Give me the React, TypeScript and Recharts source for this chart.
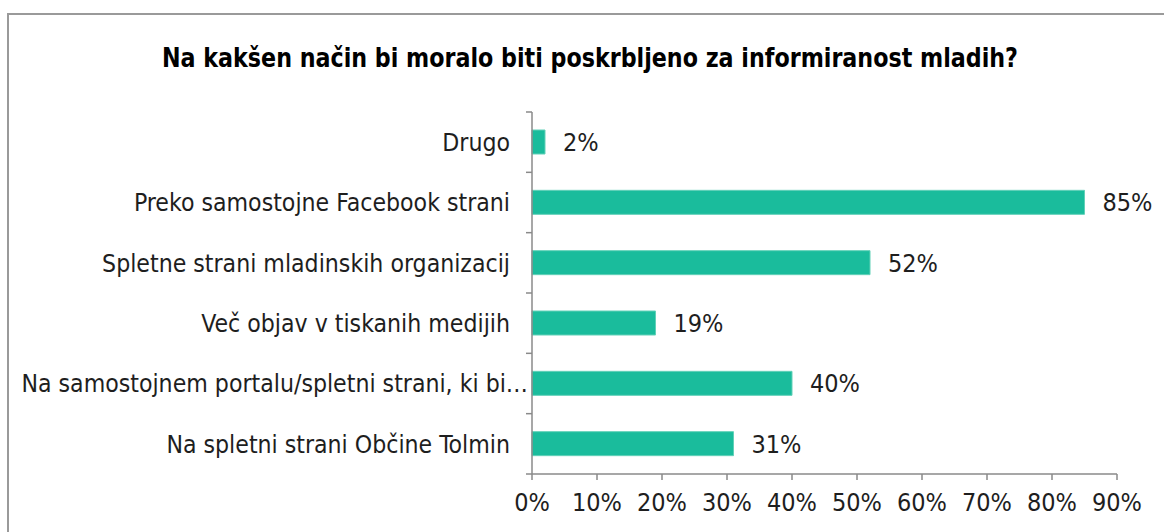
import React from "react";
import { BarChart, Bar, XAxis, YAxis, LabelList } from "recharts";

const categories: string[] = [
  "Drugo",
  "Preko samostojne Facebook strani",
  "Spletne strani mladinskih organizacij",
  "Več objav v tiskanih medijih",
  "Na samostojnem portalu/spletni strani, ki bi…",
  "Na spletni strani Občine Tolmin",
];
const values: number[] = [2, 85, 52, 19, 40, 31];
const xTicks: number[] = [0, 10, 20, 30, 40, 50, 60, 70, 80, 90];
const title = "Na kakšen način bi moralo biti poskrbljeno za informiranost mladih?";

const data = categories.map((name, i) => ({ name, value: values[i] }));

const FONT = '"DejaVu Sans Condensed", "DejaVu Sans", sans-serif';
const AXIS_COLOR = "#8a8a8a";
const TEXT_COLOR = "#1e1e1e";

const YTick = (props: any) => {
  const { x, y, payload, index, visibleTicksCount } = props;
  const half = payload && payload.offset ? payload.offset : 30;
  const axisX = x + 16;
  const label = String(payload.value);
  const truncated = label.endsWith("…");
  return (
    <g>
      <line x1={axisX - 6} x2={axisX} y1={y - half} y2={y - half} stroke={AXIS_COLOR} strokeWidth={1.5} />
      {index === (visibleTicksCount ?? categories.length) - 1 ? (
        <line x1={axisX - 6} x2={axisX} y1={y + half} y2={y + half} stroke={AXIS_COLOR} strokeWidth={1.5} />
      ) : null}
      <text
        x={truncated ? axisX - 4 : x - 6}
        y={y}
        dy="0.36em"
        textAnchor="end"
        fill={TEXT_COLOR}
        fontSize={24.6}
        fontFamily={FONT}
      >
        {label}
      </text>
    </g>
  );
};

export default function App() {
  return (
    <div style={{ position: "absolute", left: 0, top: 0, width: 1164, height: 532, overflow: "hidden", background: "#fff" }}>
      <div
        style={{
          position: "absolute",
          left: 7,
          top: 13,
          width: 1200,
          height: 600,
          border: "2px solid #9a9a9a",
          boxSizing: "border-box",
        }}
      />
      <svg style={{ position: "absolute", left: 0, top: 0 }} width={1164} height={100}>
        <text
          x={162}
          y={67}
          textLength={856}
          lengthAdjust="spacingAndGlyphs"
          fontFamily='"DejaVu Sans Condensed", "DejaVu Sans", sans-serif'
          fontWeight={700}
          fontSize={26.5}
          fill="#000"
        >
          {title}
        </text>
      </svg>
      <div style={{ position: "absolute", left: 0, top: 0 }}>
        <BarChart
          width={1164}
          height={532}
          data={data}
          layout="vertical"
          margin={{ top: 112, right: 47, bottom: 0, left: 0 }}
          barCategoryGap={0}
        >
          <XAxis
            type="number"
            domain={[0, 90]}
            ticks={xTicks}
            tickFormatter={(v: number) => `${v}%`}
            height={58}
            axisLine={{ stroke: AXIS_COLOR, strokeWidth: 1.5 }}
            tickLine={{ stroke: AXIS_COLOR, strokeWidth: 1.5 }}
            tickSize={6}
            tickMargin={13}
            tick={{ fill: TEXT_COLOR, fontSize: 25, fontFamily: FONT }}
            interval={0}
          />
          <YAxis
            type="category"
            dataKey="name"
            width={532}
            axisLine={{ stroke: AXIS_COLOR, strokeWidth: 1.5 }}
            tickLine={false}
            tickSize={0}
            tickMargin={16}
            tick={<YTick />}
            interval={0}
          />
          <Bar dataKey="value" fill="#1abc9c" stroke="#62d1b8" strokeWidth={1} barSize={24} isAnimationActive={false}>
            <LabelList
              dataKey="value"
              position="right"
              offset={18}
              formatter={(v: any) => `${v}%`}
              fill={TEXT_COLOR}
              fontSize={25}
              fontFamily={FONT}
            />
          </Bar>
        </BarChart>
      </div>
    </div>
  );
}
